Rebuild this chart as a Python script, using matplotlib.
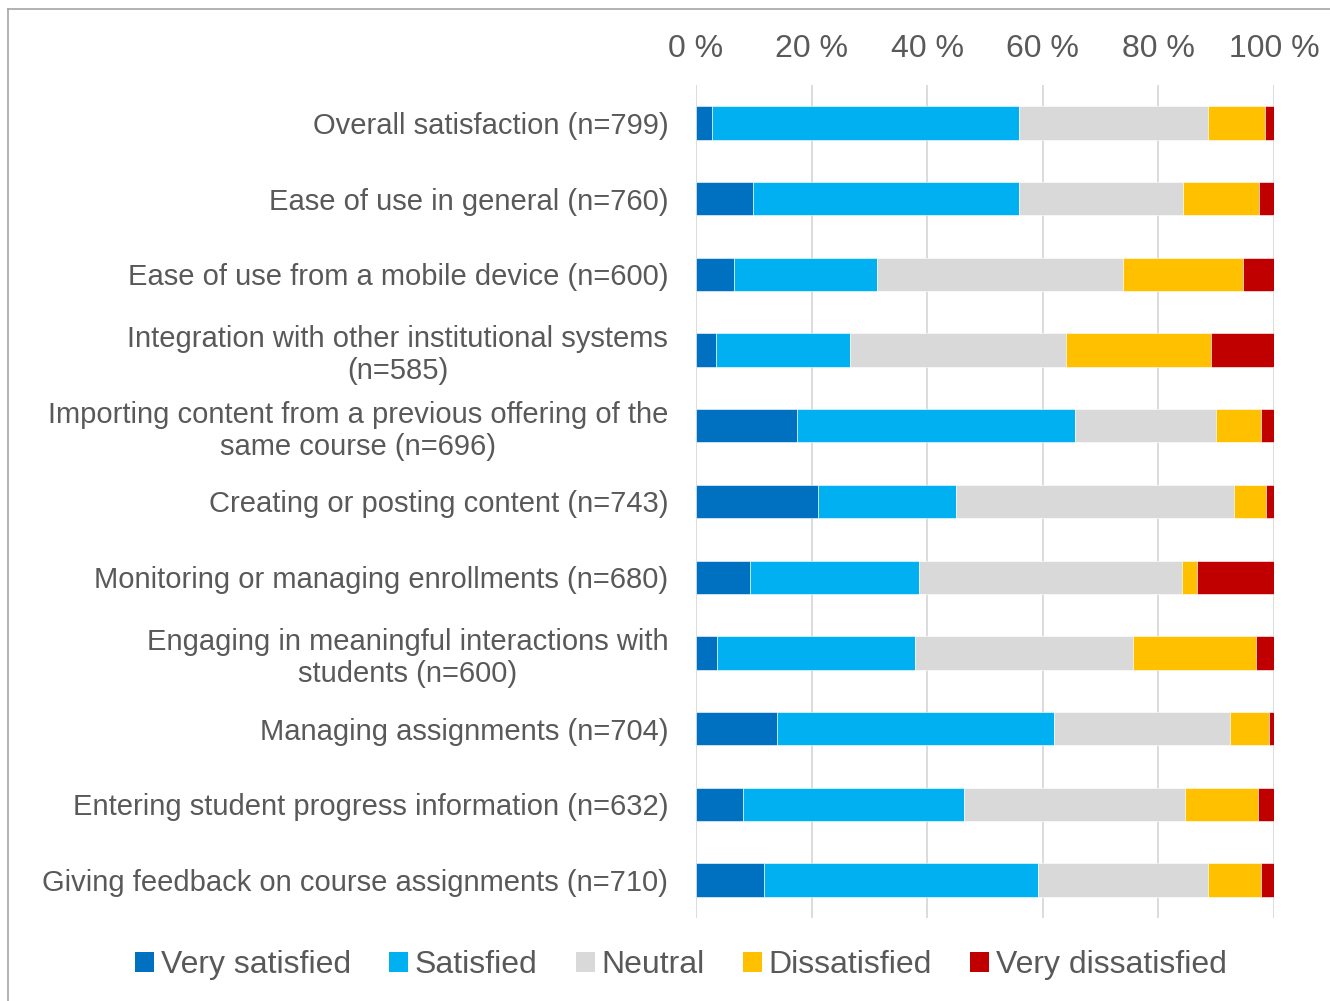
import numpy as np
import matplotlib
matplotlib.use('Agg')
import matplotlib.pyplot as plt
from matplotlib.patches import Patch
from matplotlib.lines import Line2D

# Du lieu doc tu bieu do (%)
categories = [
    'Overall satisfaction (n=799)',
    'Ease of use in general (n=760)',
    'Ease of use from a mobile device (n=600)',
    'Integration with other institutional systems\n(n=585)',
    'Importing content from a previous offering of the\nsame course (n=696)',
    'Creating or posting content (n=743)',
    'Monitoring or managing enrollments (n=680)',
    'Engaging in meaningful interactions with\nstudents (n=600)',
    'Managing assignments (n=704)',
    'Entering student progress information (n=632)',
    'Giving feedback on course assignments (n=710)',
]
very_satisfied = [2.8, 9.9, 6.6, 3.5, 17.5, 21.2, 9.3, 3.6, 14.0, 8.2, 11.8]
satisfied = [53.0, 45.9, 24.7, 23.1, 48.0, 23.9, 29.3, 34.3, 47.9, 38.2, 47.4]
neutral = [32.8, 28.4, 42.6, 37.4, 24.4, 48.1, 45.5, 37.7, 30.5, 38.2, 29.4]
dissatisfied = [9.8, 13.2, 20.8, 25.1, 7.9, 5.6, 2.5, 21.2, 6.7, 12.6, 9.1]
very_dissatisfied = [1.6, 2.6, 5.3, 10.9, 2.2, 1.3, 13.4, 3.2, 0.9, 2.8, 2.3]

series_names = ['Very satisfied', 'Satisfied', 'Neutral', 'Dissatisfied', 'Very dissatisfied']
colors = ['#0070C0', '#00B0F0', '#D9D9D9', '#FFC000', '#C00000']
ticks = [0, 20, 40, 60, 80, 100]
tick_labels = ['0 %', '20 %', '40 %', '60 %', '80 %', '100 %']

plt.rcParams['font.family'] = ['Liberation Sans', 'DejaVu Sans']
text_color = '#595959'

fig = plt.figure(figsize=(13.3, 10.01), dpi=100)
W, H = 1330, 1001
ax = fig.add_axes([696 / W, 1 - 918 / H, (1274 - 696) / W, (918 - 85) / H])

data = np.array([very_satisfied, satisfied, neutral, dissatisfied, very_dissatisfied])
data = data / data.sum(axis=0) * 100
y = np.arange(len(categories))
left = np.zeros(len(categories))
for vals, col in zip(data, colors):
    ax.barh(y, vals, left=left, height=0.44, color=col, edgecolor='white',
            linewidth=0.4, zorder=3)
    left += vals

ax.set_xlim(0, 100)
ax.set_ylim(len(categories) - 0.5, -0.5)
ax.set_xticks(ticks)
ax.set_xticklabels(tick_labels)
ax.xaxis.tick_top()
ax.set_yticks(y)
ax.set_yticklabels(categories, multialignment='center')
ax.tick_params(axis='x', length=0, pad=15, labelsize=23, labelcolor=text_color)
ax.tick_params(axis='y', length=0, pad=20, labelsize=21, labelcolor=text_color)
ax.grid(axis='x', color='#D9D9D9', linewidth=1.3, zorder=0)
for s in ax.spines.values():
    s.set_visible(False)

# Chu thich
handles = [Patch(facecolor=c, edgecolor='none') for c in colors]
fig.legend(handles, series_names, loc='center', bbox_to_anchor=(681 / W, 1 - 965 / H),
           ncol=5, frameon=False, fontsize=23, labelcolor=text_color,
           handlelength=0.6, handleheight=0.6, handletextpad=0.2,
           columnspacing=1.2)

# Khung vien
fig.add_artist(Line2D([8 / W, 8 / W], [0, 1 - 9 / H], transform=fig.transFigure,
                      color='#A6A6A6', linewidth=1.2))
fig.add_artist(Line2D([8 / W, 1], [1 - 9 / H, 1 - 9 / H], transform=fig.transFigure,
                      color='#A6A6A6', linewidth=1.2))

fig.savefig('out.png', dpi=100)
